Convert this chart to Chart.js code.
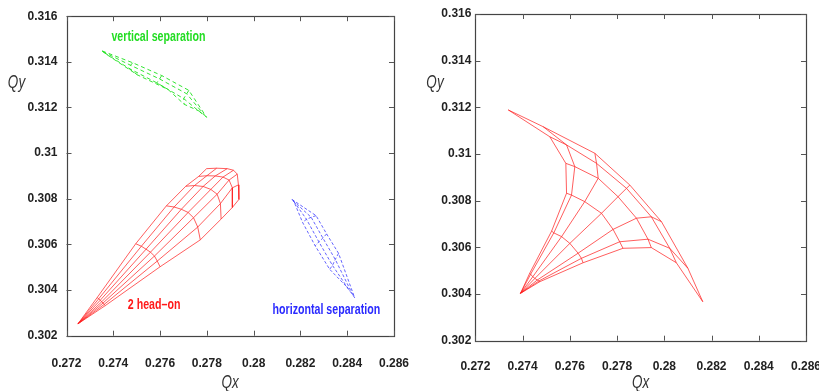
<!DOCTYPE html>
<html><head><meta charset="utf-8">
<script src="https://cdn.jsdelivr.net/npm/chart.js@4.4.1/dist/chart.umd.min.js"></script>
<style>
html,body{margin:0;padding:0;background:#fff;overflow:hidden;}
#wrap{position:relative;width:819px;height:391px;overflow:hidden;}
#c1{position:absolute;left:0;top:0;width:430px;height:391px;}
#c2{position:absolute;left:410px;top:0;width:430px;height:391px;}
</style></head><body>
<div id="wrap"><canvas id="c1" width="430" height="391"></canvas><canvas id="c2" width="430" height="391"></canvas></div>
<script>
// ---------- tick values / labels ----------
const qxTicks = [0.272, 0.274, 0.276, 0.278, 0.280, 0.282, 0.284, 0.286];
const qxTickLabels = ['0.272', '0.274', '0.276', '0.278', '0.28', '0.282', '0.284', '0.286'];
const qyTicks = [0.302, 0.304, 0.306, 0.308, 0.310, 0.312, 0.314, 0.316];
const qyTickLabels = ['0.302', '0.304', '0.306', '0.308', '0.31', '0.312', '0.314', '0.316'];

// ---------- left panel: 2 head-on (rows = angle rays, cols = amplitude steps) ----------
const headOnApex = [0.27249, 0.30252];
const headOnQx = [
  [0.27331, 0.27496, 0.27627, 0.27710, 0.27765, 0.27799],
  [0.27338, 0.27520, 0.27660, 0.27747, 0.27800, 0.27842],
  [0.27344, 0.27540, 0.27691, 0.27784, 0.27836, 0.27887],
  [0.27351, 0.27559, 0.27720, 0.27817, 0.27869, 0.27914],
  [0.27356, 0.27576, 0.27743, 0.27844, 0.27895, 0.27930],
  [0.27361, 0.27588, 0.27761, 0.27858, 0.27909, 0.27935],
  [0.27366, 0.27600, 0.27772, 0.27861, 0.27909, 0.27937]
];
const headOnQy = [
  [0.30367, 0.30603, 0.30769, 0.30855, 0.30898, 0.30932],
  [0.30362, 0.30592, 0.30764, 0.30858, 0.30901, 0.30934],
  [0.30355, 0.30579, 0.30754, 0.30854, 0.30900, 0.30932],
  [0.30349, 0.30566, 0.30740, 0.30841, 0.30895, 0.30925],
  [0.30343, 0.30549, 0.30717, 0.30820, 0.30882, 0.30908],
  [0.30337, 0.30527, 0.30676, 0.30779, 0.30848, 0.30861],
  [0.30332, 0.30502, 0.30620, 0.30711, 0.30762, 0.30797]
];

// ---------- left panel: vertical separation ----------
const vertSepQx = [
  [0.27352, 0.27483, 0.27607, 0.27723, 0.27799],
  [0.27355, 0.27474, 0.27598, 0.27714, 0.27790],
  [0.27363, 0.27466, 0.27586, 0.27701, 0.27780],
  [0.27375, 0.27503, 0.27634, 0.27703, 0.27770]
];
const vertSepQy = [
  [0.31448, 0.31396, 0.31340, 0.31275, 0.31157],
  [0.31445, 0.31385, 0.31325, 0.31260, 0.31166],
  [0.31439, 0.31372, 0.31308, 0.31239, 0.31172],
  [0.31430, 0.31343, 0.31279, 0.31214, 0.31183]
];

// ---------- left panel: horizontal separation ----------
const horSepQx = [
  [0.28164, 0.28267, 0.28312, 0.28363, 0.28432],
  [0.28168, 0.28246, 0.28296, 0.28349, 0.28424],
  [0.28172, 0.28226, 0.28279, 0.28337, 0.28411],
  [0.28176, 0.28209, 0.28263, 0.28325, 0.28399]
];
const horSepQy = [
  [0.30797, 0.30726, 0.30646, 0.30561, 0.30366],
  [0.30792, 0.30719, 0.30628, 0.30534, 0.30379],
  [0.30788, 0.30710, 0.30611, 0.30508, 0.30396],
  [0.30779, 0.30697, 0.30594, 0.30491, 0.30413]
];

// ---------- right panel footprint ----------
const rightApex = [0.27391, 0.30403];
const rightQx = [
  [0.27430, 0.27523, 0.27586, 0.27583, 0.27515, 0.27339],
  [0.27434, 0.27532, 0.27607, 0.27621, 0.27586, 0.27487],
  [0.27443, 0.27565, 0.27663, 0.27720, 0.27713, 0.27706],
  [0.27452, 0.27600, 0.27734, 0.27804, 0.27840, 0.27854],
  [0.27462, 0.27635, 0.27783, 0.27882, 0.27945, 0.27988],
  [0.27469, 0.27649, 0.27811, 0.27931, 0.28023, 0.28100],
  [0.27473, 0.27656, 0.27825, 0.27945, 0.28051, 0.28163]
];
const rightQy = [
  [0.30489, 0.30670, 0.30832, 0.30960, 0.31074, 0.31189],
  [0.30485, 0.30662, 0.30824, 0.30946, 0.31039, 0.31117],
  [0.30474, 0.30646, 0.30796, 0.30896, 0.30960, 0.31003],
  [0.30467, 0.30617, 0.30746, 0.30817, 0.30853, 0.30867],
  [0.30460, 0.30575, 0.30677, 0.30725, 0.30731, 0.30710],
  [0.30456, 0.30553, 0.30624, 0.30635, 0.30596, 0.30510],
  [0.30453, 0.30534, 0.30596, 0.30599, 0.30534, 0.30367]
];

// ---------- annotation texts ----------
const leftLabels = [
  {text: 'vertical separation', qx: 0.27392, qy: 0.31507, color: '#22dd22'},
  {text: '2 head\u2013on', qx: 0.27462, qy: 0.30332, color: '#ff1a1a'},
  {text: 'horizontal separation', qx: 0.28081, qy: 0.30310, color: '#2a2aff'}
];

// ---------- styles ----------
const RED = {color: 'rgba(255,25,25,0.7)', width: 1, dash: []};
const GREEN = {color: 'rgba(30,225,30,0.9)', width: 1, dash: [4, 3]};
const BLUE = {color: 'rgba(40,40,255,0.8)', width: 0.9, dash: [3, 2]};
const TICK_FONT = {family: "'Liberation Sans', Arial, sans-serif", weight: 'bold', size: 12};
const LABEL_FONT = "bold 14px 'Liberation Sans', Arial, sans-serif";
const TITLE_FONT = "italic 18px 'Liberation Sans', Arial, sans-serif";

function lineDs(pts, st) {
  return {data: pts, showLine: true, pointRadius: 0, borderColor: st.color,
          borderWidth: st.width, borderDash: st.dash, fill: false, tension: 0};
}
function meshDatasets(qx, qy, apex, st) {
  const ds = [];
  for (let i = 0; i < qx.length; i++) {
    const pts = [];
    if (apex) pts.push({x: apex[0], y: apex[1]});
    for (let j = 0; j < qx[i].length; j++) pts.push({x: qx[i][j], y: qy[i][j]});
    ds.push(lineDs(pts, st));
  }
  for (let j = 0; j < qx[0].length; j++) {
    const pts = [];
    for (let i = 0; i < qx.length; i++) pts.push({x: qx[i][j], y: qy[i][j]});
    ds.push(lineDs(pts, st));
  }
  return ds;
}
function condensedText(ctx, text, x, y, align, k) {
  ctx.save();
  ctx.translate(x, y);
  ctx.scale(k, 1);
  ctx.textAlign = align;
  ctx.textBaseline = 'middle';
  ctx.fillText(text, 0, 0);
  ctx.restore();
}

const framePlugin = {
  id: 'frame',
  afterDatasetsDraw(chart, args, opts) {
    const {ctx, chartArea: a, scales: {x, y}} = chart;
    ctx.save();
    ctx.strokeStyle = '#444';
    ctx.lineWidth = 1.2;
    ctx.setLineDash([]);
    ctx.strokeRect(Math.round(a.left) + 0.5, Math.round(a.top) + 0.5,
                   Math.round(a.right - a.left), Math.round(a.bottom - a.top));
    ctx.lineWidth = 1;
    ctx.strokeStyle = '#555';
    ctx.beginPath();
    x.ticks.forEach(t => {
      const px = Math.round(x.getPixelForValue(t.value)) + 0.5;
      ctx.moveTo(px, a.bottom); ctx.lineTo(px, a.bottom - 5);
      ctx.moveTo(px, a.top); ctx.lineTo(px, a.top + 5);
    });
    y.ticks.forEach(t => {
      const py = Math.round(y.getPixelForValue(t.value)) + 0.5;
      ctx.moveTo(a.left, py); ctx.lineTo(a.left + 5, py);
      ctx.moveTo(a.right, py); ctx.lineTo(a.right - 5, py);
    });
    ctx.stroke();
    ctx.font = LABEL_FONT;
    (opts.labels || []).forEach(l => {
      ctx.fillStyle = l.color;
      condensedText(ctx, l.text, x.getPixelForValue(l.qx), y.getPixelForValue(l.qy), 'left', 0.76);
    });
    ctx.font = TITLE_FONT;
    ctx.fillStyle = '#333';
    condensedText(ctx, 'Qx', (a.left + a.right) / 2, opts.qxY, 'center', 0.75);
    condensedText(ctx, 'Qy', opts.qyX, opts.qyY, 'center', 0.75);
    ctx.restore();
  }
};

function makeChart(id, datasets, cfg) {
  return new Chart(document.getElementById(id), {
    type: 'scatter',
    data: {datasets},
    plugins: [framePlugin],
    options: {
      responsive: false, animation: false, events: [],
      layout: {padding: {left: 0, top: cfg.top, right: cfg.right, bottom: 0}},
      plugins: {legend: {display: false}, tooltip: {enabled: false},
                frame: {labels: cfg.labels, qxY: 383, qyX: cfg.qyX, qyY: 83}},
      scales: {
        x: {type: 'linear', min: 0.272, max: 0.286, position: 'bottom',
            afterFit: s => { s.height = cfg.xH; },
            afterBuildTicks: s => { s.ticks = qxTicks.map(v => ({value: v})); },
            grid: {display: false, drawTicks: false}, border: {display: false},
            ticks: {padding: cfg.xPad, color: '#222', font: TICK_FONT, maxRotation: 0, autoSkip: false,
                    callback: (v, i) => qxTickLabels[i]}},
        y: {type: 'linear', min: 0.302, max: 0.316, position: 'left',
            afterFit: s => { s.width = cfg.yW; },
            afterBuildTicks: s => { s.ticks = qyTicks.map(v => ({value: v})); },
            grid: {display: false, drawTicks: false}, border: {display: false},
            ticks: {padding: cfg.yPad, color: '#222', font: TICK_FONT, autoSkip: false,
                    callback: (v, i) => qyTickLabels[i]}}
      }
    }
  });
}

const leftDatasets = [].concat(
  meshDatasets(headOnQx, headOnQy, headOnApex, RED),
  meshDatasets(vertSepQx, vertSepQy, null, GREEN),
  meshDatasets(horSepQx, horSepQy, null, BLUE)
);
makeChart('c1', leftDatasets, {top: 10, right: 24.3, xH: 55.3, yW: 66.5, yPad: 9, xPad: 21, qyX: 16.5, labels: leftLabels});
makeChart('c2', meshDatasets(rightQx, rightQy, rightApex, RED),
          {top: 14, right: 33.4, xH: 50.3, yW: 65.4, yPad: 4, xPad: 19, qyX: 25, labels: []});
</script>
</body></html>
